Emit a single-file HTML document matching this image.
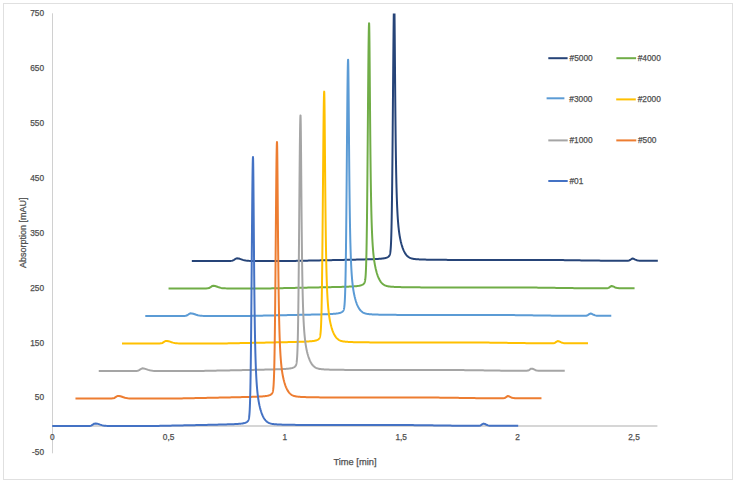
<!DOCTYPE html>
<html><head><meta charset="utf-8"><style>
html,body{margin:0;padding:0;background:#fff;}
svg{display:block;}
text{font-family:"Liberation Sans",sans-serif;fill:#505050;stroke:#505050;stroke-width:0.25px;}
</style></head><body>
<svg width="736" height="483" viewBox="0 0 736 483">
<defs><clipPath id="pa"><rect x="40" y="13.5" width="680" height="441"/></clipPath></defs>
<rect x="0" y="0" width="736" height="483" fill="#fff"/>
<rect x="3.5" y="3.5" width="729" height="476" fill="none" stroke="#e0e0e0" stroke-width="1"/>
<line x1="52.5" y1="13.3" x2="52.5" y2="453.3" stroke="#d0d0d0" stroke-width="1"/>
<line x1="52.5" y1="426" x2="657.4" y2="426" stroke="#d6d6d6" stroke-width="2"/>
<g clip-path="url(#pa)" fill="none" stroke-width="2" stroke-linejoin="round" stroke-linecap="butt">
<path d="M191.82 260.91L193.32 260.91L194.82 260.91L196.32 260.91L197.82 260.91L199.32 260.91L200.82 260.91L202.32 260.91L203.82 260.91L205.32 260.91L206.82 260.91L208.32 260.91L209.82 260.91L211.32 260.91L212.82 260.91L214.32 260.91L215.82 260.91L217.32 260.91L218.82 260.91L220.32 260.91L221.82 260.91L223.32 260.91L224.82 260.91L226.32 260.91L227.82 260.91L229.32 260.90L230.82 260.88L232.32 260.70L233.82 260.05L235.32 258.93L236.82 258.31L238.32 258.45L239.82 258.83L241.32 259.34L242.82 259.84L244.32 260.26L245.82 260.56L247.32 260.74L248.82 260.83L250.32 260.88L251.82 260.90L253.32 260.90L254.82 260.90L256.32 260.91L257.82 260.91L259.32 260.91L260.82 260.91L262.32 260.91L263.82 260.91L265.32 260.90L266.82 260.90L268.32 260.90L269.82 260.90L271.32 260.90L272.82 260.90L274.32 260.90L275.82 260.90L277.32 260.90L278.82 260.90L280.32 260.90L281.82 260.90L283.32 260.90L284.82 260.90L286.32 260.90L287.82 260.90L289.32 260.90L290.82 260.90L292.32 260.90L293.82 260.90L295.32 260.88L296.82 260.85L298.32 260.82L299.82 260.79L301.32 260.76L302.82 260.73L304.32 260.70L305.82 260.67L307.32 260.64L308.82 260.61L310.32 260.58L311.82 260.55L313.32 260.51L314.82 260.48L316.32 260.45L317.82 260.42L319.32 260.39L320.82 260.36L322.32 260.33L323.82 260.30L325.32 260.27L326.82 260.24L328.32 260.21L329.82 260.18L331.32 260.15L332.82 260.12L334.32 260.08L335.82 260.05L337.32 260.02L338.82 259.99L340.32 259.96L341.82 259.93L343.32 259.89L344.82 259.86L346.32 259.83L347.82 259.80L349.32 259.77L350.82 259.73L352.32 259.70L353.82 259.67L355.32 259.63L356.82 259.60L358.32 259.56L359.82 259.53L361.32 259.49L362.82 259.45L364.32 259.41L365.82 259.37L367.32 259.33L368.82 259.29L370.32 259.24L370.82 259.22L371.32 259.21L371.82 259.19L372.32 259.17L372.82 259.15L373.32 259.13L373.82 259.11L374.32 259.09L374.82 259.07L375.32 259.05L375.82 259.03L376.32 259.00L376.82 258.98L377.32 258.95L377.82 258.92L378.32 258.90L378.82 258.86L379.32 258.83L379.82 258.79L380.32 258.75L380.82 258.71L381.32 258.67L381.82 258.61L382.32 258.56L382.82 258.50L383.32 258.43L383.82 258.35L384.32 258.26L384.82 258.16L385.32 258.05L385.82 257.92L386.32 257.76L386.82 257.58L387.32 257.36L387.82 257.09L388.32 256.76L388.42 256.68L388.52 256.60L388.62 256.51L388.72 256.42L388.82 256.33L388.92 256.22L389.02 256.11L389.12 255.99L389.22 255.85L389.32 255.71L389.42 255.54L389.52 255.36L389.62 255.15L389.72 254.91L389.82 254.63L389.92 254.30L390.02 253.92L390.12 253.48L390.22 252.95L390.32 252.32L390.42 251.58L390.52 250.70L390.62 249.65L390.72 248.41L390.82 246.94L390.92 245.21L391.02 243.19L391.12 240.82L391.22 238.07L391.32 234.90L391.42 231.25L391.52 227.08L391.62 222.36L391.72 217.03L391.82 211.07L391.92 204.44L392.02 197.13L392.12 189.13L392.22 180.45L392.32 171.09L392.42 161.09L392.52 150.50L392.62 139.39L392.72 127.84L392.82 115.97L392.92 103.88L393.02 91.72L393.12 79.63L393.22 67.79L393.32 56.37L393.42 45.54L393.52 35.49L393.62 26.39L393.72 18.42L393.82 11.72L393.92 6.44L394.02 2.69L394.12 0.53L394.22 0.07L394.32 2.20L394.42 7.19L394.52 14.68L394.62 24.19L394.72 35.18L394.82 47.10L394.92 59.48L395.02 71.91L395.12 84.07L395.22 95.74L395.32 106.78L395.42 117.11L395.52 126.69L395.62 135.53L395.72 143.65L395.82 151.08L395.92 157.87L396.02 164.07L396.12 169.73L396.22 174.90L396.32 179.63L396.42 183.95L396.52 187.91L396.62 191.55L396.72 194.88L396.82 197.96L396.92 200.79L397.02 203.41L397.12 205.84L397.22 208.08L397.32 210.17L397.42 212.12L397.52 213.94L397.62 215.63L397.72 217.22L397.82 218.72L397.92 220.12L398.02 221.44L398.12 222.69L398.22 223.86L398.32 224.98L398.42 226.04L398.52 227.04L398.62 228.00L398.72 228.91L398.82 229.77L398.92 230.60L399.02 231.40L399.12 232.16L399.22 232.89L399.32 233.59L399.42 234.26L399.52 234.91L399.62 235.54L399.72 236.14L399.82 236.72L399.92 237.29L400.02 237.83L400.12 238.36L400.22 238.87L400.72 241.22L401.22 243.26L401.72 245.07L402.22 246.68L402.72 248.12L403.22 249.42L403.72 250.58L404.22 251.63L404.72 252.57L405.22 253.41L405.72 254.16L406.22 254.83L406.72 255.42L407.22 255.94L407.72 256.40L408.22 256.80L408.72 257.15L409.22 257.46L409.72 257.72L410.22 257.95L410.72 258.15L411.22 258.33L411.72 258.47L412.22 258.60L412.72 258.71L413.22 258.81L413.72 258.90L414.22 258.97L414.72 259.04L415.22 259.09L415.72 259.14L416.22 259.19L416.72 259.23L417.22 259.27L417.72 259.30L418.22 259.34L418.72 259.36L419.22 259.39L420.72 259.46L422.22 259.52L423.72 259.57L425.22 259.61L426.72 259.65L428.22 259.68L429.72 259.70L431.22 259.73L432.72 259.75L434.22 259.77L435.72 259.79L437.22 259.80L438.72 259.82L440.22 259.83L441.72 259.84L443.22 259.85L444.72 259.86L446.22 259.87L447.72 259.88L449.22 259.88L450.72 259.89L452.22 259.90L453.72 259.90L455.22 259.91L456.72 259.91L458.22 259.92L459.72 259.92L461.22 259.92L462.72 259.93L464.22 259.93L465.72 259.93L467.22 259.94L468.72 259.94L470.22 259.94L471.72 259.95L473.22 259.95L474.72 259.95L476.22 259.95L477.72 259.95L479.22 259.96L480.72 259.96L482.22 259.96L483.72 259.96L485.22 259.96L486.72 259.96L488.22 259.97L489.72 259.97L491.22 259.97L492.72 259.97L494.22 259.97L495.72 259.97L497.22 259.97L498.72 259.97L500.22 259.98L501.72 259.98L503.22 259.98L504.72 259.98L506.22 259.98L507.72 259.98L509.22 259.98L510.72 259.98L512.22 259.98L513.72 259.98L515.22 259.98L516.72 259.98L518.22 259.98L519.72 259.99L521.22 259.99L522.72 259.99L524.22 259.99L525.72 259.99L527.22 259.99L528.72 259.99L530.22 259.99L531.72 259.99L533.22 259.99L534.72 259.99L536.22 259.99L537.72 259.99L539.22 259.99L540.72 259.99L542.22 259.99L543.72 259.99L545.22 259.99L546.72 260.00L548.22 260.00L549.72 260.01L551.22 260.01L552.72 260.02L554.22 260.03L555.72 260.05L557.22 260.06L558.72 260.07L560.22 260.09L561.72 260.11L563.22 260.12L564.72 260.14L566.22 260.16L567.72 260.18L569.22 260.20L570.72 260.22L572.22 260.24L573.72 260.27L575.22 260.29L576.72 260.31L578.22 260.33L579.72 260.36L581.22 260.38L582.72 260.40L584.22 260.42L585.72 260.45L587.22 260.47L588.72 260.49L590.22 260.51L591.72 260.53L593.22 260.55L594.72 260.57L596.22 260.59L597.72 260.60L599.22 260.62L600.72 260.63L602.22 260.65L603.72 260.66L605.22 260.67L606.72 260.68L608.22 260.69L609.72 260.69L611.22 260.70L612.72 260.70L614.22 260.70L615.72 260.70L617.22 260.70L618.72 260.70L620.22 260.70L621.72 260.70L623.22 260.70L624.72 260.70L626.22 260.70L627.72 260.69L629.22 260.47L630.72 259.53L632.22 258.52L633.72 258.79L635.22 259.54L636.72 260.21L638.22 260.56L639.72 260.67L641.22 260.70L642.72 260.70L644.22 260.70L645.72 260.70L647.22 260.70L648.72 260.70L650.22 260.70L651.72 260.70L653.22 260.70L654.72 260.70L656.22 260.70L657.22 260.70L657.82 260.70" stroke="#264478"/>
<path d="M168.55 288.42L170.05 288.42L171.55 288.42L173.05 288.42L174.55 288.42L176.05 288.42L177.55 288.42L179.05 288.42L180.55 288.42L182.05 288.42L183.55 288.42L185.05 288.42L186.55 288.42L188.05 288.42L189.55 288.42L191.05 288.42L192.55 288.42L194.05 288.42L195.55 288.42L197.05 288.42L198.55 288.42L200.05 288.42L201.55 288.42L203.05 288.42L204.55 288.42L206.05 288.42L207.55 288.36L209.05 288.05L210.55 287.19L212.05 286.10L213.55 285.84L215.05 286.08L216.55 286.52L218.05 287.04L219.55 287.52L221.05 287.90L222.55 288.15L224.05 288.29L225.55 288.37L227.05 288.40L228.55 288.41L230.05 288.42L231.55 288.42L233.05 288.42L234.55 288.42L236.05 288.42L237.55 288.42L239.05 288.42L240.55 288.42L242.05 288.42L243.55 288.42L245.05 288.42L246.55 288.42L248.05 288.42L249.55 288.42L251.05 288.42L252.55 288.42L254.05 288.42L255.55 288.42L257.05 288.42L258.55 288.42L260.05 288.42L261.55 288.42L263.05 288.42L264.55 288.42L266.05 288.42L267.55 288.42L269.05 288.42L270.55 288.39L272.05 288.36L273.55 288.33L275.05 288.30L276.55 288.27L278.05 288.24L279.55 288.21L281.05 288.17L282.55 288.14L284.05 288.11L285.55 288.08L287.05 288.05L288.55 288.02L290.05 287.99L291.55 287.96L293.05 287.93L294.55 287.90L296.05 287.87L297.55 287.84L299.05 287.81L300.55 287.78L302.05 287.75L303.55 287.72L305.05 287.68L306.55 287.65L308.05 287.62L309.55 287.59L311.05 287.56L312.55 287.53L314.05 287.50L315.55 287.47L317.05 287.43L318.55 287.40L320.05 287.37L321.55 287.34L323.05 287.31L324.55 287.27L326.05 287.24L327.55 287.21L329.05 287.17L330.55 287.14L332.05 287.10L333.55 287.07L335.05 287.03L336.55 286.99L338.05 286.96L339.55 286.92L341.05 286.88L342.55 286.83L344.05 286.79L345.55 286.74L346.05 286.72L346.55 286.71L347.05 286.69L347.55 286.67L348.05 286.65L348.55 286.63L349.05 286.61L349.55 286.59L350.05 286.57L350.55 286.55L351.05 286.52L351.55 286.50L352.05 286.47L352.55 286.44L353.05 286.41L353.55 286.38L354.05 286.35L354.55 286.31L355.05 286.28L355.55 286.23L356.05 286.19L356.55 286.14L357.05 286.08L357.55 286.02L358.05 285.96L358.55 285.88L359.05 285.80L359.55 285.70L360.05 285.59L360.55 285.46L361.05 285.31L361.55 285.13L362.05 284.92L362.55 284.67L363.05 284.36L363.55 283.96L363.65 283.86L363.75 283.76L363.85 283.66L363.95 283.54L364.05 283.41L364.15 283.27L364.25 283.12L364.35 282.94L364.45 282.75L364.55 282.53L364.65 282.27L364.75 281.97L364.85 281.63L364.95 281.22L365.05 280.75L365.15 280.18L365.25 279.51L365.35 278.71L365.45 277.77L365.55 276.65L365.65 275.32L365.75 273.75L365.85 271.91L365.95 269.75L366.05 267.23L366.15 264.31L366.25 260.94L366.35 257.08L366.45 252.67L366.55 247.69L366.65 242.08L366.75 235.82L366.85 228.87L366.95 221.23L367.05 212.88L367.15 203.84L367.25 194.12L367.35 183.76L367.45 172.83L367.55 161.38L367.65 149.53L367.75 137.37L367.85 125.04L367.95 112.68L368.05 100.44L368.15 88.51L368.25 77.05L368.35 66.26L368.45 56.31L368.55 47.38L368.65 39.65L368.75 33.26L368.85 28.34L368.95 25.00L369.05 23.31L369.15 23.50L369.25 26.57L369.35 32.45L369.45 40.73L369.55 50.92L369.65 62.44L369.75 74.75L369.85 87.40L369.95 99.98L370.05 112.22L370.15 123.91L370.25 134.93L370.35 145.21L370.45 154.72L370.55 163.49L370.65 171.53L370.75 178.89L370.85 185.61L370.95 191.74L371.05 197.35L371.15 202.47L371.25 207.14L371.35 211.43L371.45 215.35L371.55 218.95L371.65 222.26L371.75 225.31L371.85 228.13L371.95 230.73L372.05 233.14L372.15 235.37L372.25 237.45L372.35 239.39L372.45 241.20L372.55 242.89L372.65 244.48L372.75 245.97L372.85 247.37L372.95 248.69L373.05 249.94L373.15 251.11L373.25 252.23L373.35 253.29L373.45 254.29L373.55 255.25L373.65 256.16L373.75 257.03L373.85 257.87L373.95 258.66L374.05 259.43L374.15 260.16L374.25 260.86L374.35 261.54L374.45 262.19L374.55 262.82L374.65 263.43L374.75 264.02L374.85 264.58L374.95 265.13L375.05 265.67L375.15 266.18L375.65 268.54L376.15 270.61L376.65 272.43L377.15 274.06L377.65 275.52L378.15 276.83L378.65 278.01L379.15 279.06L379.65 280.01L380.15 280.86L380.65 281.62L381.15 282.29L381.65 282.89L382.15 283.42L382.65 283.88L383.15 284.29L383.65 284.64L384.15 284.95L384.65 285.22L385.15 285.45L385.65 285.65L386.15 285.82L386.65 285.97L387.15 286.10L387.65 286.21L388.15 286.31L388.65 286.40L389.15 286.47L389.65 286.54L390.15 286.60L390.65 286.65L391.15 286.69L391.65 286.74L392.15 286.77L392.65 286.81L393.15 286.84L393.65 286.87L394.15 286.90L395.65 286.97L397.15 287.03L398.65 287.08L400.15 287.12L401.65 287.16L403.15 287.19L404.65 287.22L406.15 287.24L407.65 287.26L409.15 287.28L410.65 287.30L412.15 287.31L413.65 287.33L415.15 287.34L416.65 287.35L418.15 287.36L419.65 287.37L421.15 287.38L422.65 287.39L424.15 287.40L425.65 287.40L427.15 287.41L428.65 287.41L430.15 287.42L431.65 287.42L433.15 287.43L434.65 287.43L436.15 287.44L437.65 287.44L439.15 287.45L440.65 287.45L442.15 287.45L443.65 287.45L445.15 287.46L446.65 287.46L448.15 287.46L449.65 287.46L451.15 287.47L452.65 287.47L454.15 287.47L455.65 287.47L457.15 287.47L458.65 287.48L460.15 287.48L461.65 287.48L463.15 287.48L464.65 287.48L466.15 287.48L467.65 287.48L469.15 287.49L470.65 287.49L472.15 287.49L473.65 287.49L475.15 287.49L476.65 287.49L478.15 287.49L479.65 287.49L481.15 287.49L482.65 287.49L484.15 287.50L485.65 287.50L487.15 287.50L488.65 287.50L490.15 287.50L491.65 287.50L493.15 287.50L494.65 287.50L496.15 287.50L497.65 287.50L499.15 287.50L500.65 287.50L502.15 287.50L503.65 287.50L505.15 287.50L506.65 287.50L508.15 287.50L509.65 287.51L511.15 287.51L512.65 287.51L514.15 287.51L515.65 287.51L517.15 287.51L518.65 287.51L520.15 287.51L521.65 287.51L523.15 287.52L524.65 287.52L526.15 287.53L527.65 287.54L529.15 287.55L530.65 287.56L532.15 287.57L533.65 287.59L535.15 287.60L536.65 287.62L538.15 287.64L539.65 287.66L541.15 287.68L542.65 287.70L544.15 287.72L545.65 287.74L547.15 287.76L548.65 287.78L550.15 287.80L551.65 287.83L553.15 287.85L554.65 287.87L556.15 287.89L557.65 287.92L559.15 287.94L560.65 287.96L562.15 287.98L563.65 288.00L565.15 288.03L566.65 288.05L568.15 288.06L569.65 288.08L571.15 288.10L572.65 288.12L574.15 288.13L575.65 288.15L577.15 288.16L578.65 288.17L580.15 288.18L581.65 288.19L583.15 288.20L584.65 288.21L586.15 288.21L587.65 288.22L589.15 288.22L590.65 288.22L592.15 288.22L593.65 288.22L595.15 288.22L596.65 288.22L598.15 288.22L599.65 288.22L601.15 288.22L602.65 288.22L604.15 288.22L605.65 288.22L607.15 288.19L608.65 287.86L610.15 286.75L611.65 286.02L613.15 286.45L614.65 287.22L616.15 287.83L617.65 288.11L619.15 288.20L620.65 288.22L622.15 288.22L623.65 288.22L625.15 288.22L626.65 288.22L628.15 288.22L629.65 288.22L631.15 288.22L632.65 288.22L633.95 288.22L634.55 288.22" stroke="#70AD47"/>
<path d="M145.28 315.94L146.78 315.94L148.28 315.94L149.78 315.94L151.28 315.94L152.78 315.94L154.28 315.94L155.78 315.94L157.28 315.94L158.78 315.94L160.28 315.94L161.78 315.94L163.28 315.94L164.78 315.94L166.28 315.94L167.78 315.94L169.28 315.94L170.78 315.94L172.28 315.94L173.78 315.94L175.28 315.94L176.78 315.94L178.28 315.94L179.78 315.94L181.28 315.94L182.78 315.94L184.28 315.92L185.78 315.79L187.28 315.28L188.78 314.22L190.28 313.37L191.78 313.42L193.28 313.76L194.78 314.25L196.28 314.76L197.78 315.21L199.28 315.53L200.78 315.73L202.28 315.85L203.78 315.90L205.28 315.92L206.78 315.93L208.28 315.93L209.78 315.94L211.28 315.94L212.78 315.94L214.28 315.94L215.78 315.94L217.28 315.94L218.78 315.94L220.28 315.93L221.78 315.93L223.28 315.93L224.78 315.93L226.28 315.93L227.78 315.93L229.28 315.93L230.78 315.93L232.28 315.93L233.78 315.93L235.28 315.93L236.78 315.93L238.28 315.93L239.78 315.93L241.28 315.93L242.78 315.93L244.28 315.93L245.78 315.93L247.28 315.93L248.78 315.92L250.28 315.89L251.78 315.86L253.28 315.83L254.78 315.80L256.28 315.77L257.78 315.74L259.28 315.71L260.78 315.68L262.28 315.65L263.78 315.61L265.28 315.58L266.78 315.55L268.28 315.52L269.78 315.49L271.28 315.46L272.78 315.43L274.28 315.40L275.78 315.37L277.28 315.34L278.78 315.31L280.28 315.28L281.78 315.25L283.28 315.22L284.78 315.19L286.28 315.15L287.78 315.12L289.28 315.09L290.78 315.06L292.28 315.03L293.78 315.00L295.28 314.97L296.78 314.93L298.28 314.90L299.78 314.87L301.28 314.84L302.78 314.81L304.28 314.77L305.78 314.74L307.28 314.71L308.78 314.67L310.28 314.64L311.78 314.60L313.28 314.57L314.78 314.53L316.28 314.49L317.78 314.46L319.28 314.42L320.78 314.38L322.28 314.33L323.78 314.29L324.28 314.27L324.78 314.25L325.28 314.24L325.78 314.22L326.28 314.20L326.78 314.18L327.28 314.17L327.78 314.15L328.28 314.13L328.78 314.10L329.28 314.08L329.78 314.06L330.28 314.04L330.78 314.01L331.28 313.98L331.78 313.96L332.28 313.93L332.78 313.90L333.28 313.86L333.78 313.83L334.28 313.79L334.78 313.74L335.28 313.70L335.78 313.65L336.28 313.59L336.78 313.53L337.28 313.46L337.78 313.38L338.28 313.30L338.78 313.20L339.28 313.08L339.78 312.95L340.28 312.79L340.78 312.61L341.28 312.39L341.78 312.12L342.28 311.78L342.38 311.70L342.48 311.62L342.58 311.54L342.68 311.44L342.78 311.34L342.88 311.24L342.98 311.12L343.08 310.99L343.18 310.85L343.28 310.70L343.38 310.53L343.48 310.33L343.58 310.11L343.68 309.85L343.78 309.55L343.88 309.20L343.98 308.79L344.08 308.30L344.18 307.73L344.28 307.05L344.38 306.24L344.48 305.28L344.58 304.14L344.68 302.79L344.78 301.20L344.88 299.33L344.98 297.14L345.08 294.60L345.18 291.65L345.28 288.26L345.38 284.38L345.48 279.96L345.58 274.97L345.68 269.36L345.78 263.12L345.88 256.21L345.98 248.62L346.08 240.36L346.18 231.42L346.28 221.85L346.38 211.67L346.48 200.95L346.58 189.77L346.68 178.22L346.78 166.41L346.88 154.48L346.98 142.56L347.08 130.81L347.18 119.40L347.28 108.51L347.38 98.31L347.48 88.98L347.58 80.68L347.68 73.59L347.78 67.83L347.88 63.53L347.98 60.78L348.08 59.63L348.18 60.58L348.28 64.39L348.38 70.81L348.48 79.42L348.58 89.70L348.68 101.11L348.78 113.15L348.88 125.38L348.98 137.46L349.08 149.14L349.18 160.25L349.28 170.68L349.38 180.39L349.48 189.36L349.58 197.61L349.68 205.18L349.78 212.10L349.88 218.42L349.98 224.18L350.08 229.45L350.18 234.26L350.28 238.66L350.38 242.69L350.48 246.39L350.58 249.78L350.68 252.90L350.78 255.77L350.88 258.43L350.98 260.88L351.08 263.16L351.18 265.27L351.28 267.24L351.38 269.08L351.48 270.79L351.58 272.39L351.68 273.89L351.78 275.31L351.88 276.64L351.98 277.89L352.08 279.07L352.18 280.19L352.28 281.25L352.38 282.26L352.48 283.22L352.58 284.13L352.68 285.00L352.78 285.83L352.88 286.62L352.98 287.38L353.08 288.11L353.18 288.81L353.28 289.48L353.38 290.13L353.48 290.75L353.58 291.35L353.68 291.93L353.78 292.50L353.88 293.04L353.98 293.56L354.08 294.07L354.18 294.57L354.68 296.83L355.18 298.81L355.68 300.56L356.18 302.12L356.68 303.52L357.18 304.78L357.68 305.91L358.18 306.92L358.68 307.84L359.18 308.65L359.68 309.38L360.18 310.02L360.68 310.60L361.18 311.10L361.68 311.54L362.18 311.93L362.68 312.27L363.18 312.57L363.68 312.82L364.18 313.05L364.68 313.24L365.18 313.40L365.68 313.55L366.18 313.67L366.68 313.78L367.18 313.87L367.68 313.96L368.18 314.03L368.68 314.09L369.18 314.15L369.68 314.20L370.18 314.24L370.68 314.28L371.18 314.32L371.68 314.35L372.18 314.38L372.68 314.41L373.18 314.44L374.68 314.50L376.18 314.56L377.68 314.61L379.18 314.65L380.68 314.68L382.18 314.71L383.68 314.74L385.18 314.76L386.68 314.79L388.18 314.80L389.68 314.82L391.18 314.84L392.68 314.85L394.18 314.86L395.68 314.87L397.18 314.88L398.68 314.89L400.18 314.90L401.68 314.91L403.18 314.92L404.68 314.92L406.18 314.93L407.68 314.93L409.18 314.94L410.68 314.94L412.18 314.95L413.68 314.95L415.18 314.96L416.68 314.96L418.18 314.96L419.68 314.97L421.18 314.97L422.68 314.97L424.18 314.97L425.68 314.98L427.18 314.98L428.68 314.98L430.18 314.98L431.68 314.99L433.18 314.99L434.68 314.99L436.18 314.99L437.68 314.99L439.18 314.99L440.68 315.00L442.18 315.00L443.68 315.00L445.18 315.00L446.68 315.00L448.18 315.00L449.68 315.00L451.18 315.00L452.68 315.01L454.18 315.01L455.68 315.01L457.18 315.01L458.68 315.01L460.18 315.01L461.68 315.01L463.18 315.01L464.68 315.01L466.18 315.01L467.68 315.01L469.18 315.01L470.68 315.01L472.18 315.02L473.68 315.02L475.18 315.02L476.68 315.02L478.18 315.02L479.68 315.02L481.18 315.02L482.68 315.02L484.18 315.02L485.68 315.02L487.18 315.02L488.68 315.02L490.18 315.02L491.68 315.02L493.18 315.02L494.68 315.02L496.18 315.02L497.68 315.02L499.18 315.02L500.68 315.03L502.18 315.03L503.68 315.04L505.18 315.04L506.68 315.05L508.18 315.06L509.68 315.08L511.18 315.09L512.68 315.10L514.18 315.12L515.68 315.14L517.18 315.15L518.68 315.17L520.18 315.19L521.68 315.21L523.18 315.23L524.68 315.25L526.18 315.28L527.68 315.30L529.18 315.32L530.68 315.34L532.18 315.37L533.68 315.39L535.18 315.41L536.68 315.43L538.18 315.46L539.68 315.48L541.18 315.50L542.68 315.52L544.18 315.54L545.68 315.56L547.18 315.58L548.68 315.60L550.18 315.62L551.68 315.63L553.18 315.65L554.68 315.66L556.18 315.68L557.68 315.69L559.18 315.70L560.68 315.71L562.18 315.72L563.68 315.72L565.18 315.73L566.68 315.73L568.18 315.73L569.68 315.73L571.18 315.73L572.68 315.73L574.18 315.73L575.68 315.73L577.18 315.73L578.68 315.73L580.18 315.73L581.68 315.73L583.18 315.73L584.68 315.73L586.18 315.69L587.68 315.31L589.18 314.15L590.68 313.55L592.18 314.03L593.68 314.80L595.18 315.38L596.68 315.64L598.18 315.72L599.68 315.73L601.18 315.73L602.68 315.73L604.18 315.73L605.68 315.73L607.18 315.73L608.68 315.73L610.18 315.73L610.68 315.73L611.28 315.73" stroke="#5B9BD5"/>
<path d="M122.01 343.45L123.51 343.45L125.01 343.45L126.51 343.45L128.01 343.45L129.51 343.45L131.01 343.45L132.51 343.45L134.01 343.45L135.51 343.45L137.01 343.45L138.51 343.45L140.01 343.45L141.51 343.45L143.01 343.45L144.51 343.45L146.01 343.45L147.51 343.45L149.01 343.45L150.51 343.45L152.01 343.45L153.51 343.45L155.01 343.45L156.51 343.45L158.01 343.45L159.51 343.44L161.01 343.35L162.51 342.93L164.01 341.95L165.51 340.96L167.01 340.90L168.51 341.20L170.01 341.67L171.51 342.19L173.01 342.65L174.51 343.00L176.01 343.22L177.51 343.35L179.01 343.41L180.51 343.44L182.01 343.45L183.51 343.45L185.01 343.45L186.51 343.45L188.01 343.45L189.51 343.45L191.01 343.45L192.51 343.45L194.01 343.45L195.51 343.45L197.01 343.45L198.51 343.45L200.01 343.45L201.51 343.45L203.01 343.45L204.51 343.45L206.01 343.45L207.51 343.45L209.01 343.45L210.51 343.45L212.01 343.45L213.51 343.45L215.01 343.45L216.51 343.45L218.01 343.45L219.51 343.45L221.01 343.45L222.51 343.45L224.01 343.45L225.51 343.42L227.01 343.39L228.51 343.36L230.01 343.33L231.51 343.30L233.01 343.27L234.51 343.24L236.01 343.21L237.51 343.18L239.01 343.15L240.51 343.12L242.01 343.09L243.51 343.06L245.01 343.03L246.51 343.00L248.01 342.96L249.51 342.93L251.01 342.90L252.51 342.87L254.01 342.84L255.51 342.81L257.01 342.78L258.51 342.75L260.01 342.72L261.51 342.69L263.01 342.66L264.51 342.63L266.01 342.59L267.51 342.56L269.01 342.53L270.51 342.50L272.01 342.47L273.51 342.44L275.01 342.41L276.51 342.37L278.01 342.34L279.51 342.31L281.01 342.28L282.51 342.24L284.01 342.21L285.51 342.17L287.01 342.14L288.51 342.10L290.01 342.07L291.51 342.03L293.01 341.99L294.51 341.96L296.01 341.92L297.51 341.87L299.01 341.83L300.51 341.78L301.01 341.77L301.51 341.75L302.01 341.73L302.51 341.72L303.01 341.70L303.51 341.68L304.01 341.66L304.51 341.64L305.01 341.62L305.51 341.60L306.01 341.57L306.51 341.55L307.01 341.52L307.51 341.50L308.01 341.47L308.51 341.44L309.01 341.41L309.51 341.37L310.01 341.34L310.51 341.30L311.01 341.26L311.51 341.21L312.01 341.16L312.51 341.10L313.01 341.04L313.51 340.97L314.01 340.89L314.51 340.80L315.01 340.70L315.51 340.58L316.01 340.45L316.51 340.29L317.01 340.10L317.51 339.87L318.01 339.59L318.51 339.24L318.61 339.15L318.71 339.07L318.81 338.97L318.91 338.87L319.01 338.77L319.11 338.65L319.21 338.52L319.31 338.38L319.41 338.22L319.51 338.05L319.61 337.85L319.71 337.62L319.81 337.35L319.91 337.05L320.01 336.69L320.11 336.26L320.21 335.76L320.31 335.17L320.41 334.46L320.51 333.62L320.61 332.63L320.71 331.45L320.81 330.06L320.91 328.42L321.01 326.49L321.11 324.24L321.21 321.63L321.31 318.61L321.41 315.14L321.51 311.17L321.61 306.66L321.71 301.58L321.81 295.89L321.91 289.56L322.01 282.58L322.11 274.92L322.21 266.60L322.31 257.63L322.41 248.05L322.51 237.88L322.61 227.21L322.71 216.10L322.81 204.67L322.91 193.02L323.01 181.28L323.11 169.61L323.21 158.15L323.31 147.08L323.41 136.56L323.51 126.78L323.61 117.90L323.71 110.09L323.81 103.50L323.91 98.26L324.01 94.49L324.11 92.25L324.21 91.62L324.31 93.39L324.41 97.94L324.51 104.95L324.61 113.95L324.71 124.44L324.81 135.89L324.91 147.81L325.01 159.81L325.11 171.58L325.21 182.90L325.31 193.62L325.41 203.66L325.51 212.99L325.61 221.59L325.71 229.49L325.81 236.72L325.91 243.34L326.01 249.38L326.11 254.89L326.21 259.93L326.31 264.53L326.41 268.74L326.51 272.60L326.61 276.13L326.71 279.38L326.81 282.37L326.91 285.13L327.01 287.68L327.11 290.04L327.21 292.22L327.31 294.25L327.41 296.15L327.51 297.91L327.61 299.56L327.71 301.11L327.81 302.55L327.91 303.92L328.01 305.20L328.11 306.41L328.21 307.55L328.31 308.63L328.41 309.66L328.51 310.63L328.61 311.56L328.71 312.44L328.81 313.29L328.91 314.09L329.01 314.86L329.11 315.60L329.21 316.31L329.31 316.98L329.41 317.64L329.51 318.27L329.61 318.87L329.71 319.46L329.81 320.02L329.91 320.57L330.01 321.10L330.11 321.61L330.21 322.10L330.71 324.37L331.21 326.35L331.71 328.10L332.21 329.66L332.71 331.05L333.21 332.31L333.71 333.44L334.21 334.45L334.71 335.36L335.21 336.17L335.71 336.90L336.21 337.54L336.71 338.12L337.21 338.62L337.71 339.06L338.21 339.45L338.71 339.79L339.21 340.09L339.71 340.34L340.21 340.57L340.71 340.76L341.21 340.93L341.71 341.07L342.21 341.19L342.71 341.30L343.21 341.40L343.71 341.48L344.21 341.55L344.71 341.61L345.21 341.67L345.71 341.72L346.21 341.76L346.71 341.80L347.21 341.84L347.71 341.87L348.21 341.90L348.71 341.93L349.21 341.96L350.71 342.03L352.21 342.08L353.71 342.13L355.21 342.17L356.71 342.20L358.21 342.23L359.71 342.26L361.21 342.28L362.71 342.30L364.21 342.32L365.71 342.34L367.21 342.35L368.71 342.37L370.21 342.38L371.71 342.39L373.21 342.40L374.71 342.41L376.21 342.42L377.71 342.43L379.21 342.43L380.71 342.44L382.21 342.44L383.71 342.45L385.21 342.46L386.71 342.46L388.21 342.46L389.71 342.47L391.21 342.47L392.71 342.48L394.21 342.48L395.71 342.48L397.21 342.49L398.71 342.49L400.21 342.49L401.71 342.49L403.21 342.50L404.71 342.50L406.21 342.50L407.71 342.50L409.21 342.50L410.71 342.51L412.21 342.51L413.71 342.51L415.21 342.51L416.71 342.51L418.21 342.51L419.71 342.51L421.21 342.52L422.71 342.52L424.21 342.52L425.71 342.52L427.21 342.52L428.71 342.52L430.21 342.52L431.71 342.52L433.21 342.52L434.71 342.52L436.21 342.53L437.71 342.53L439.21 342.53L440.71 342.53L442.21 342.53L443.71 342.53L445.21 342.53L446.71 342.53L448.21 342.53L449.71 342.53L451.21 342.53L452.71 342.53L454.21 342.53L455.71 342.53L457.21 342.53L458.71 342.53L460.21 342.53L461.71 342.54L463.21 342.54L464.71 342.54L466.21 342.54L467.71 342.54L469.21 342.54L470.71 342.54L472.21 342.54L473.71 342.54L475.21 342.54L476.71 342.54L478.21 342.55L479.71 342.55L481.21 342.56L482.71 342.57L484.21 342.58L485.71 342.59L487.21 342.60L488.71 342.62L490.21 342.63L491.71 342.65L493.21 342.67L494.71 342.69L496.21 342.71L497.71 342.73L499.21 342.75L500.71 342.77L502.21 342.79L503.71 342.81L505.21 342.83L506.71 342.86L508.21 342.88L509.71 342.90L511.21 342.92L512.71 342.95L514.21 342.97L515.71 342.99L517.21 343.01L518.71 343.03L520.21 343.06L521.71 343.08L523.21 343.09L524.71 343.11L526.21 343.13L527.71 343.15L529.21 343.16L530.71 343.18L532.21 343.19L533.71 343.20L535.21 343.21L536.71 343.22L538.21 343.23L539.71 343.24L541.21 343.24L542.71 343.25L544.21 343.25L545.71 343.25L547.21 343.25L548.71 343.25L550.21 343.25L551.71 343.25L553.21 343.22L554.71 342.95L556.21 341.90L557.71 341.05L559.21 341.42L560.71 342.18L562.21 342.82L563.71 343.13L565.21 343.22L566.71 343.25L568.21 343.25L569.71 343.25L571.21 343.25L572.71 343.25L574.21 343.25L575.71 343.25L577.21 343.25L578.71 343.25L580.21 343.25L581.71 343.25L583.21 343.25L584.71 343.25L586.21 343.25L587.41 343.25L588.01 343.25" stroke="#FFC000"/>
<path d="M98.74 370.97L100.24 370.97L101.74 370.97L103.24 370.97L104.74 370.97L106.24 370.97L107.74 370.97L109.24 370.97L110.74 370.97L112.24 370.97L113.74 370.97L115.24 370.97L116.74 370.97L118.24 370.97L119.74 370.97L121.24 370.97L122.74 370.97L124.24 370.97L125.74 370.97L127.24 370.97L128.74 370.97L130.24 370.97L131.74 370.97L133.24 370.97L134.74 370.96L136.24 370.94L137.74 370.77L139.24 370.16L140.74 369.05L142.24 368.37L143.74 368.50L145.24 368.87L146.74 369.37L148.24 369.88L149.74 370.30L151.24 370.60L152.74 370.79L154.24 370.89L155.74 370.94L157.24 370.96L158.74 370.96L160.24 370.96L161.74 370.97L163.24 370.97L164.74 370.97L166.24 370.97L167.74 370.97L169.24 370.97L170.74 370.97L172.24 370.96L173.74 370.96L175.24 370.96L176.74 370.96L178.24 370.96L179.74 370.96L181.24 370.96L182.74 370.96L184.24 370.96L185.74 370.96L187.24 370.96L188.74 370.96L190.24 370.96L191.74 370.96L193.24 370.96L194.74 370.96L196.24 370.96L197.74 370.96L199.24 370.96L200.74 370.96L202.24 370.93L203.74 370.90L205.24 370.87L206.74 370.84L208.24 370.81L209.74 370.78L211.24 370.74L212.74 370.71L214.24 370.68L215.74 370.65L217.24 370.62L218.74 370.59L220.24 370.56L221.74 370.53L223.24 370.50L224.74 370.47L226.24 370.44L227.74 370.41L229.24 370.38L230.74 370.35L232.24 370.32L233.74 370.29L235.24 370.26L236.74 370.22L238.24 370.19L239.74 370.16L241.24 370.13L242.74 370.10L244.24 370.07L245.74 370.04L247.24 370.01L248.74 369.97L250.24 369.94L251.74 369.91L253.24 369.88L254.74 369.85L256.24 369.81L257.74 369.78L259.24 369.75L260.74 369.71L262.24 369.68L263.74 369.64L265.24 369.61L266.74 369.57L268.24 369.54L269.74 369.50L271.24 369.46L272.74 369.42L274.24 369.38L275.74 369.33L276.24 369.31L276.74 369.30L277.24 369.28L277.74 369.27L278.24 369.25L278.74 369.23L279.24 369.21L279.74 369.19L280.24 369.17L280.74 369.15L281.24 369.13L281.74 369.11L282.24 369.09L282.74 369.06L283.24 369.04L283.74 369.01L284.24 368.98L284.74 368.95L285.24 368.92L285.74 368.89L286.24 368.85L286.74 368.81L287.24 368.77L287.74 368.72L288.24 368.67L288.74 368.62L289.24 368.55L289.74 368.48L290.24 368.41L290.74 368.32L291.24 368.22L291.74 368.10L292.24 367.97L292.74 367.81L293.24 367.62L293.74 367.39L294.24 367.12L294.74 366.77L294.84 366.69L294.94 366.61L295.04 366.52L295.14 366.42L295.24 366.32L295.34 366.20L295.44 366.08L295.54 365.95L295.64 365.80L295.74 365.64L295.84 365.45L295.94 365.24L296.04 365.00L296.14 364.71L296.24 364.39L296.34 364.00L296.44 363.55L296.54 363.01L296.64 362.38L296.74 361.62L296.84 360.73L296.94 359.67L297.04 358.41L297.14 356.92L297.24 355.17L297.34 353.12L297.44 350.73L297.54 347.96L297.64 344.76L297.74 341.08L297.84 336.89L297.94 332.15L298.04 326.80L298.14 320.83L298.24 314.21L298.34 306.91L298.44 298.93L298.54 290.28L298.64 280.98L298.74 271.06L298.84 260.57L298.94 249.59L299.04 238.20L299.14 226.51L299.24 214.63L299.34 202.72L299.44 190.91L299.54 179.37L299.64 168.27L299.74 157.80L299.84 148.12L299.94 139.41L300.04 131.84L300.14 125.54L300.24 120.66L300.34 117.28L300.44 115.49L300.54 115.45L300.64 118.12L300.74 123.53L300.84 131.31L300.94 140.96L301.04 151.96L301.14 163.78L301.24 175.95L301.34 188.10L301.44 199.94L301.54 211.26L301.64 221.95L301.74 231.93L301.84 241.18L301.94 249.70L302.04 257.51L302.14 264.67L302.24 271.21L302.34 277.18L302.44 282.63L302.54 287.60L302.64 292.15L302.74 296.32L302.84 300.13L302.94 303.63L303.04 306.85L303.14 309.81L303.24 312.55L303.34 315.08L303.44 317.42L303.54 319.59L303.64 321.61L303.74 323.49L303.84 325.25L303.94 326.89L304.04 328.43L304.14 329.87L304.24 331.23L304.34 332.51L304.44 333.72L304.54 334.86L304.64 335.94L304.74 336.97L304.84 337.94L304.94 338.87L305.04 339.75L305.14 340.60L305.24 341.40L305.34 342.17L305.44 342.91L305.54 343.62L305.64 344.30L305.74 344.96L305.84 345.59L305.94 346.20L306.04 346.79L306.14 347.35L306.24 347.90L306.34 348.43L306.44 348.95L306.54 349.45L307.04 351.73L307.54 353.73L308.04 355.49L308.54 357.06L309.04 358.47L309.54 359.74L310.04 360.87L310.54 361.90L311.04 362.81L311.54 363.63L312.04 364.37L312.54 365.02L313.04 365.59L313.54 366.10L314.04 366.55L314.54 366.94L315.04 367.28L315.54 367.58L316.04 367.84L316.54 368.06L317.04 368.26L317.54 368.42L318.04 368.57L318.54 368.70L319.04 368.80L319.54 368.90L320.04 368.98L320.54 369.05L321.04 369.12L321.54 369.17L322.04 369.22L322.54 369.27L323.04 369.31L323.54 369.35L324.04 369.38L324.54 369.41L325.04 369.44L325.54 369.46L327.04 369.53L328.54 369.59L330.04 369.64L331.54 369.68L333.04 369.71L334.54 369.74L336.04 369.77L337.54 369.79L339.04 369.82L340.54 369.83L342.04 369.85L343.54 369.87L345.04 369.88L346.54 369.89L348.04 369.90L349.54 369.91L351.04 369.92L352.54 369.93L354.04 369.94L355.54 369.95L357.04 369.95L358.54 369.96L360.04 369.96L361.54 369.97L363.04 369.97L364.54 369.98L366.04 369.98L367.54 369.99L369.04 369.99L370.54 369.99L372.04 370.00L373.54 370.00L375.04 370.00L376.54 370.00L378.04 370.01L379.54 370.01L381.04 370.01L382.54 370.01L384.04 370.02L385.54 370.02L387.04 370.02L388.54 370.02L390.04 370.02L391.54 370.02L393.04 370.03L394.54 370.03L396.04 370.03L397.54 370.03L399.04 370.03L400.54 370.03L402.04 370.03L403.54 370.03L405.04 370.04L406.54 370.04L408.04 370.04L409.54 370.04L411.04 370.04L412.54 370.04L414.04 370.04L415.54 370.04L417.04 370.04L418.54 370.04L420.04 370.04L421.54 370.04L423.04 370.04L424.54 370.05L426.04 370.05L427.54 370.05L429.04 370.05L430.54 370.05L432.04 370.05L433.54 370.05L435.04 370.05L436.54 370.05L438.04 370.05L439.54 370.05L441.04 370.05L442.54 370.05L444.04 370.05L445.54 370.05L447.04 370.05L448.54 370.05L450.04 370.05L451.54 370.05L453.04 370.06L454.54 370.06L456.04 370.07L457.54 370.07L459.04 370.08L460.54 370.09L462.04 370.11L463.54 370.12L465.04 370.13L466.54 370.15L468.04 370.17L469.54 370.18L471.04 370.20L472.54 370.22L474.04 370.24L475.54 370.26L477.04 370.28L478.54 370.31L480.04 370.33L481.54 370.35L483.04 370.37L484.54 370.39L486.04 370.42L487.54 370.44L489.04 370.46L490.54 370.48L492.04 370.51L493.54 370.53L495.04 370.55L496.54 370.57L498.04 370.59L499.54 370.61L501.04 370.63L502.54 370.65L504.04 370.66L505.54 370.68L507.04 370.69L508.54 370.71L510.04 370.72L511.54 370.73L513.04 370.74L514.54 370.75L516.04 370.75L517.54 370.76L519.04 370.76L520.54 370.76L522.04 370.76L523.54 370.76L525.04 370.76L526.54 370.75L528.04 370.61L529.54 369.83L531.04 368.66L532.54 368.75L534.04 369.45L535.54 370.17L537.04 370.57L538.54 370.72L540.04 370.76L541.54 370.76L543.04 370.76L544.54 370.76L546.04 370.76L547.54 370.76L549.04 370.76L550.54 370.76L552.04 370.76L553.54 370.76L555.04 370.76L556.54 370.76L558.04 370.76L559.54 370.76L561.04 370.76L562.54 370.76L564.04 370.76L564.14 370.76L564.74 370.76" stroke="#A5A5A5"/>
<path d="M75.47 398.48L76.97 398.48L78.47 398.48L79.97 398.48L81.47 398.48L82.97 398.48L84.47 398.48L85.97 398.48L87.47 398.48L88.97 398.48L90.47 398.48L91.97 398.48L93.47 398.48L94.97 398.48L96.47 398.48L97.97 398.48L99.47 398.48L100.97 398.48L102.47 398.48L103.97 398.48L105.47 398.48L106.97 398.48L108.47 398.48L109.97 398.48L111.47 398.47L112.97 398.37L114.47 397.93L115.97 396.93L117.47 395.97L118.97 395.94L120.47 396.25L121.97 396.72L123.47 397.24L124.97 397.70L126.47 398.04L127.97 398.26L129.47 398.38L130.97 398.44L132.47 398.47L133.97 398.48L135.47 398.48L136.97 398.48L138.47 398.48L139.97 398.48L141.47 398.48L142.97 398.48L144.47 398.48L145.97 398.48L147.47 398.48L148.97 398.48L150.47 398.48L151.97 398.48L153.47 398.48L154.97 398.48L156.47 398.48L157.97 398.48L159.47 398.48L160.97 398.48L162.47 398.48L163.97 398.48L165.47 398.48L166.97 398.48L168.47 398.48L169.97 398.48L171.47 398.48L172.97 398.48L174.47 398.48L175.97 398.48L177.47 398.47L178.97 398.44L180.47 398.41L181.97 398.38L183.47 398.35L184.97 398.32L186.47 398.29L187.97 398.26L189.47 398.22L190.97 398.19L192.47 398.16L193.97 398.13L195.47 398.10L196.97 398.07L198.47 398.04L199.97 398.01L201.47 397.98L202.97 397.95L204.47 397.92L205.97 397.89L207.47 397.86L208.97 397.83L210.47 397.80L211.97 397.77L213.47 397.73L214.97 397.70L216.47 397.67L217.97 397.64L219.47 397.61L220.97 397.58L222.47 397.55L223.97 397.52L225.47 397.48L226.97 397.45L228.47 397.42L229.97 397.39L231.47 397.36L232.97 397.32L234.47 397.29L235.97 397.26L237.47 397.22L238.97 397.19L240.47 397.15L241.97 397.12L243.47 397.08L244.97 397.04L246.47 397.01L247.97 396.97L249.47 396.93L250.97 396.88L252.47 396.84L252.97 396.82L253.47 396.81L253.97 396.79L254.47 396.77L254.97 396.75L255.47 396.74L255.97 396.72L256.47 396.70L256.97 396.68L257.47 396.66L257.97 396.64L258.47 396.61L258.97 396.59L259.47 396.57L259.97 396.54L260.47 396.51L260.97 396.48L261.47 396.45L261.97 396.42L262.47 396.39L262.97 396.35L263.47 396.31L263.97 396.26L264.47 396.21L264.97 396.16L265.47 396.10L265.97 396.04L266.47 395.96L266.97 395.88L267.47 395.79L267.97 395.68L268.47 395.55L268.97 395.41L269.47 395.24L269.97 395.03L270.47 394.78L270.97 394.48L271.47 394.09L271.57 394.00L271.67 393.90L271.77 393.79L271.87 393.68L271.97 393.55L272.07 393.41L272.17 393.26L272.27 393.09L272.37 392.89L272.47 392.67L272.57 392.42L272.67 392.12L272.77 391.78L272.87 391.38L272.97 390.90L273.07 390.33L273.17 389.66L273.27 388.86L273.37 387.92L273.47 386.80L273.57 385.47L273.67 383.91L273.77 382.07L273.87 379.91L273.97 377.40L274.07 374.50L274.17 371.15L274.27 367.32L274.37 362.95L274.47 358.02L274.57 352.47L274.67 346.29L274.77 339.44L274.87 331.92L274.97 323.72L275.07 314.84L275.17 305.32L275.27 295.20L275.37 284.53L275.47 273.38L275.57 261.86L275.67 250.06L275.77 238.13L275.87 226.19L275.97 214.41L276.07 202.96L276.17 192.00L276.27 181.72L276.37 172.28L276.47 163.88L276.57 156.65L276.67 150.75L276.77 146.29L276.87 143.38L276.97 142.07L277.07 142.75L277.17 146.28L277.27 152.47L277.37 160.88L277.47 171.03L277.57 182.36L277.67 194.36L277.77 206.59L277.87 218.71L277.97 230.44L278.07 241.62L278.17 252.13L278.27 261.92L278.37 270.97L278.47 279.30L278.57 286.93L278.67 293.92L278.77 300.30L278.87 306.12L278.97 311.44L279.07 316.30L279.17 320.74L279.27 324.81L279.37 328.54L279.47 331.96L279.57 335.11L279.67 338.01L279.77 340.68L279.87 343.16L279.97 345.46L280.07 347.59L280.17 349.57L280.27 351.42L280.37 353.14L280.47 354.76L280.57 356.27L280.67 357.69L280.77 359.03L280.87 360.29L280.97 361.48L281.07 362.61L281.17 363.67L281.27 364.69L281.37 365.65L281.47 366.57L281.57 367.44L281.67 368.27L281.77 369.07L281.87 369.84L281.97 370.57L282.07 371.27L282.17 371.95L282.27 372.60L282.37 373.22L282.47 373.83L282.57 374.41L282.67 374.97L282.77 375.52L282.87 376.05L282.97 376.56L283.07 377.05L283.57 379.32L284.07 381.31L284.57 383.06L285.07 384.63L285.57 386.03L286.07 387.29L286.57 388.43L287.07 389.45L287.57 390.36L288.07 391.18L288.57 391.91L289.07 392.55L289.57 393.13L290.07 393.63L290.57 394.08L291.07 394.47L291.57 394.81L292.07 395.11L292.57 395.36L293.07 395.58L293.57 395.78L294.07 395.94L294.57 396.09L295.07 396.21L295.57 396.32L296.07 396.42L296.57 396.50L297.07 396.57L297.57 396.63L298.07 396.69L298.57 396.74L299.07 396.78L299.57 396.82L300.07 396.86L300.57 396.89L301.07 396.93L301.57 396.95L302.07 396.98L303.57 397.05L305.07 397.10L306.57 397.15L308.07 397.19L309.57 397.23L311.07 397.26L312.57 397.29L314.07 397.31L315.57 397.33L317.07 397.35L318.57 397.37L320.07 397.38L321.57 397.39L323.07 397.41L324.57 397.42L326.07 397.43L327.57 397.44L329.07 397.45L330.57 397.45L332.07 397.46L333.57 397.47L335.07 397.47L336.57 397.48L338.07 397.48L339.57 397.49L341.07 397.49L342.57 397.50L344.07 397.50L345.57 397.50L347.07 397.51L348.57 397.51L350.07 397.51L351.57 397.52L353.07 397.52L354.57 397.52L356.07 397.52L357.57 397.53L359.07 397.53L360.57 397.53L362.07 397.53L363.57 397.53L365.07 397.54L366.57 397.54L368.07 397.54L369.57 397.54L371.07 397.54L372.57 397.54L374.07 397.54L375.57 397.55L377.07 397.55L378.57 397.55L380.07 397.55L381.57 397.55L383.07 397.55L384.57 397.55L386.07 397.55L387.57 397.55L389.07 397.55L390.57 397.56L392.07 397.56L393.57 397.56L395.07 397.56L396.57 397.56L398.07 397.56L399.57 397.56L401.07 397.56L402.57 397.56L404.07 397.56L405.57 397.56L407.07 397.56L408.57 397.56L410.07 397.56L411.57 397.56L413.07 397.56L414.57 397.56L416.07 397.57L417.57 397.57L419.07 397.57L420.57 397.57L422.07 397.57L423.57 397.57L425.07 397.57L426.57 397.57L428.07 397.57L429.57 397.57L431.07 397.58L432.57 397.58L434.07 397.59L435.57 397.60L437.07 397.61L438.57 397.62L440.07 397.63L441.57 397.65L443.07 397.66L444.57 397.68L446.07 397.70L447.57 397.72L449.07 397.74L450.57 397.76L452.07 397.78L453.57 397.80L455.07 397.82L456.57 397.84L458.07 397.86L459.57 397.89L461.07 397.91L462.57 397.93L464.07 397.96L465.57 397.98L467.07 398.00L468.57 398.02L470.07 398.04L471.57 398.06L473.07 398.09L474.57 398.11L476.07 398.13L477.57 398.14L479.07 398.16L480.57 398.18L482.07 398.19L483.57 398.21L485.07 398.22L486.57 398.23L488.07 398.25L489.57 398.25L491.07 398.26L492.57 398.27L494.07 398.27L495.57 398.28L497.07 398.28L498.57 398.28L500.07 398.28L501.57 398.28L503.07 398.26L504.57 398.06L506.07 397.15L507.57 396.10L509.07 396.34L510.57 397.09L512.07 397.77L513.57 398.12L515.07 398.25L516.57 398.27L518.07 398.28L519.57 398.28L521.07 398.28L522.57 398.28L524.07 398.28L525.57 398.28L527.07 398.28L528.57 398.28L530.07 398.28L531.57 398.28L533.07 398.28L534.57 398.28L536.07 398.28L537.57 398.28L539.07 398.28L540.57 398.28L540.87 398.28L541.47 398.28" stroke="#ED7D31"/>
<path d="M52.20 426.00L53.70 426.00L55.20 426.00L56.70 426.00L58.20 426.00L59.70 426.00L61.20 426.00L62.70 426.00L64.20 426.00L65.70 426.00L67.20 426.00L68.70 426.00L70.20 426.00L71.70 426.00L73.20 426.00L74.70 426.00L76.20 426.00L77.70 426.00L79.20 426.00L80.70 426.00L82.20 426.00L83.70 426.00L85.20 426.00L86.70 426.00L88.20 425.99L89.70 425.93L91.20 425.61L92.70 424.73L94.20 423.65L95.70 423.42L97.20 423.66L98.70 424.11L100.20 424.63L101.70 425.11L103.20 425.48L104.70 425.73L106.20 425.87L107.70 425.94L109.20 425.98L110.70 425.99L112.20 425.99L113.70 425.99L115.20 426.00L116.70 426.00L118.20 426.00L119.70 426.00L121.20 425.99L122.70 425.99L124.20 425.99L125.70 425.99L127.20 425.99L128.70 425.99L130.20 425.99L131.70 425.99L133.20 425.99L134.70 425.99L136.20 425.99L137.70 425.99L139.20 425.99L140.70 425.99L142.20 425.99L143.70 425.99L145.20 425.99L146.70 425.99L148.20 425.99L149.70 425.99L151.20 425.99L152.70 425.99L154.20 425.97L155.70 425.94L157.20 425.91L158.70 425.88L160.20 425.85L161.70 425.82L163.20 425.79L164.70 425.75L166.20 425.72L167.70 425.69L169.20 425.66L170.70 425.63L172.20 425.60L173.70 425.57L175.20 425.54L176.70 425.51L178.20 425.48L179.70 425.45L181.20 425.42L182.70 425.39L184.20 425.36L185.70 425.33L187.20 425.30L188.70 425.26L190.20 425.23L191.70 425.20L193.20 425.17L194.70 425.14L196.20 425.11L197.70 425.08L199.20 425.05L200.70 425.01L202.20 424.98L203.70 424.95L205.20 424.92L206.70 424.89L208.20 424.85L209.70 424.82L211.20 424.79L212.70 424.75L214.20 424.72L215.70 424.68L217.20 424.65L218.70 424.61L220.20 424.57L221.70 424.54L223.20 424.50L224.70 424.46L226.20 424.41L227.70 424.37L229.20 424.32L229.70 424.31L230.20 424.29L230.70 424.27L231.20 424.25L231.70 424.23L232.20 424.22L232.70 424.20L233.20 424.17L233.70 424.15L234.20 424.13L234.70 424.11L235.20 424.08L235.70 424.06L236.20 424.03L236.70 424.00L237.20 423.97L237.70 423.94L238.20 423.90L238.70 423.86L239.20 423.82L239.70 423.78L240.20 423.73L240.70 423.68L241.20 423.62L241.70 423.56L242.20 423.48L242.70 423.40L243.20 423.31L243.70 423.21L244.20 423.09L244.70 422.95L245.20 422.78L245.70 422.59L246.20 422.35L246.70 422.07L247.20 421.71L247.30 421.63L247.40 421.54L247.50 421.45L247.60 421.35L247.70 421.25L247.80 421.13L247.90 421.01L248.00 420.87L248.10 420.72L248.20 420.56L248.30 420.37L248.40 420.16L248.50 419.92L248.60 419.64L248.70 419.32L248.80 418.94L248.90 418.49L249.00 417.97L249.10 417.34L249.20 416.60L249.30 415.72L249.40 414.68L249.50 413.44L249.60 411.98L249.70 410.25L249.80 408.23L249.90 405.86L250.00 403.11L250.10 399.93L250.20 396.27L250.30 392.08L250.40 387.33L250.50 381.96L250.60 375.95L250.70 369.25L250.80 361.86L250.90 353.75L251.00 344.93L251.10 335.41L251.20 325.23L251.30 314.43L251.40 303.07L251.50 291.25L251.60 279.06L251.70 266.63L251.80 254.09L251.90 241.60L252.00 229.32L252.10 217.44L252.20 206.14L252.30 195.60L252.40 186.01L252.50 177.54L252.60 170.36L252.70 164.61L252.80 160.41L252.90 157.86L253.00 157.00L253.10 158.59L253.20 163.16L253.30 170.40L253.40 179.84L253.50 190.91L253.60 203.06L253.70 215.76L253.80 228.60L253.90 241.21L254.00 253.36L254.10 264.89L254.20 275.69L254.30 285.73L254.40 294.99L254.50 303.51L254.60 311.31L254.70 318.44L254.80 324.95L254.90 330.90L255.00 336.32L255.10 341.29L255.20 345.82L255.30 349.98L255.40 353.79L255.50 357.29L255.60 360.51L255.70 363.48L255.80 366.22L255.90 368.76L256.00 371.11L256.10 373.30L256.20 375.34L256.30 377.23L256.40 379.01L256.50 380.67L256.60 382.23L256.70 383.69L256.80 385.07L256.90 386.37L257.00 387.60L257.10 388.76L257.20 389.86L257.30 390.90L257.40 391.90L257.50 392.85L257.60 393.75L257.70 394.61L257.80 395.44L257.90 396.23L258.00 396.99L258.10 397.72L258.20 398.42L258.30 399.09L258.40 399.74L258.50 400.37L258.60 400.97L258.70 401.56L258.80 402.12L258.90 402.67L259.00 403.20L259.50 405.63L260.00 407.75L260.50 409.62L261.00 411.29L261.50 412.79L262.00 414.13L262.50 415.34L263.00 416.42L263.50 417.39L264.00 418.26L264.50 419.04L265.00 419.73L265.50 420.34L266.00 420.89L266.50 421.36L267.00 421.78L267.50 422.14L268.00 422.46L268.50 422.73L269.00 422.97L269.50 423.18L270.00 423.36L270.50 423.51L271.00 423.64L271.50 423.76L272.00 423.86L272.50 423.95L273.00 424.03L273.50 424.09L274.00 424.15L274.50 424.21L275.00 424.25L275.50 424.30L276.00 424.34L276.50 424.37L277.00 424.40L277.50 424.43L278.00 424.46L279.50 424.53L281.00 424.59L282.50 424.64L284.00 424.69L285.50 424.72L287.00 424.76L288.50 424.78L290.00 424.81L291.50 424.83L293.00 424.85L294.50 424.87L296.00 424.89L297.50 424.90L299.00 424.91L300.50 424.92L302.00 424.93L303.50 424.94L305.00 424.95L306.50 424.96L308.00 424.97L309.50 424.98L311.00 424.98L312.50 424.99L314.00 424.99L315.50 425.00L317.00 425.00L318.50 425.01L320.00 425.01L321.50 425.02L323.00 425.02L324.50 425.02L326.00 425.03L327.50 425.03L329.00 425.03L330.50 425.03L332.00 425.04L333.50 425.04L335.00 425.04L336.50 425.04L338.00 425.04L339.50 425.05L341.00 425.05L342.50 425.05L344.00 425.05L345.50 425.05L347.00 425.06L348.50 425.06L350.00 425.06L351.50 425.06L353.00 425.06L354.50 425.06L356.00 425.06L357.50 425.06L359.00 425.06L360.50 425.07L362.00 425.07L363.50 425.07L365.00 425.07L366.50 425.07L368.00 425.07L369.50 425.07L371.00 425.07L372.50 425.07L374.00 425.07L375.50 425.07L377.00 425.07L378.50 425.07L380.00 425.08L381.50 425.08L383.00 425.08L384.50 425.08L386.00 425.08L387.50 425.08L389.00 425.08L390.50 425.08L392.00 425.08L393.50 425.08L395.00 425.08L396.50 425.08L398.00 425.08L399.50 425.08L401.00 425.08L402.50 425.08L404.00 425.08L405.50 425.09L407.00 425.09L408.50 425.10L410.00 425.10L411.50 425.11L413.00 425.12L414.50 425.14L416.00 425.15L417.50 425.16L419.00 425.18L420.50 425.20L422.00 425.21L423.50 425.23L425.00 425.25L426.50 425.27L428.00 425.29L429.50 425.31L431.00 425.33L432.50 425.36L434.00 425.38L435.50 425.40L437.00 425.42L438.50 425.45L440.00 425.47L441.50 425.49L443.00 425.51L444.50 425.54L446.00 425.56L447.50 425.58L449.00 425.60L450.50 425.62L452.00 425.64L453.50 425.66L455.00 425.68L456.50 425.69L458.00 425.71L459.50 425.72L461.00 425.74L462.50 425.75L464.00 425.76L465.50 425.77L467.00 425.78L468.50 425.78L470.00 425.79L471.50 425.79L473.00 425.79L474.50 425.79L476.00 425.79L477.50 425.79L479.00 425.76L480.50 425.45L482.00 424.37L483.50 423.59L485.00 424.00L486.50 424.77L488.00 425.39L489.50 425.68L491.00 425.77L492.50 425.79L494.00 425.79L495.50 425.79L497.00 425.79L498.50 425.79L500.00 425.79L501.50 425.79L503.00 425.79L504.50 425.79L506.00 425.79L507.50 425.79L509.00 425.79L510.50 425.79L512.00 425.79L513.50 425.79L515.00 425.79L516.50 425.79L517.60 425.79L518.20 425.79" stroke="#4472C4"/>
</g>
<g font-size="8.3">
<text x="44" y="13.3" text-anchor="end" dominant-baseline="central">750</text>
<text x="44" y="68.2" text-anchor="end" dominant-baseline="central">650</text>
<text x="44" y="123.0" text-anchor="end" dominant-baseline="central">550</text>
<text x="44" y="177.9" text-anchor="end" dominant-baseline="central">450</text>
<text x="44" y="232.7" text-anchor="end" dominant-baseline="central">350</text>
<text x="44" y="287.6" text-anchor="end" dominant-baseline="central">250</text>
<text x="44" y="342.5" text-anchor="end" dominant-baseline="central">150</text>
<text x="44" y="397.3" text-anchor="end" dominant-baseline="central">50</text>
<text x="44" y="452.2" text-anchor="end" dominant-baseline="central">-50</text>
<text x="52.2" y="440" text-anchor="middle">0</text>
<text x="168.6" y="440" text-anchor="middle">0,5</text>
<text x="284.9" y="440" text-anchor="middle">1</text>
<text x="401.2" y="440" text-anchor="middle">1,5</text>
<text x="517.6" y="440" text-anchor="middle">2</text>
<text x="634.0" y="440" text-anchor="middle">2,5</text>
</g>
<g font-size="8.3">
<line x1="548.3" y1="58.2" x2="567.6" y2="58.2" stroke="#264478" stroke-width="2"/>
<text x="569.6" y="58.1" dominant-baseline="central">#5000</text>
<line x1="616.4" y1="58.2" x2="636.1" y2="58.2" stroke="#70AD47" stroke-width="2"/>
<text x="637.7" y="58.1" dominant-baseline="central">#4000</text>
<line x1="546.6" y1="98.3" x2="564.4" y2="98.3" stroke="#5B9BD5" stroke-width="2"/>
<text x="569.3" y="98.9" dominant-baseline="central">#3000</text>
<line x1="616.2" y1="99.4" x2="635.8" y2="99.4" stroke="#FFC000" stroke-width="2"/>
<text x="637.7" y="99.2" dominant-baseline="central">#2000</text>
<line x1="548.3" y1="140.4" x2="567.7" y2="140.4" stroke="#A5A5A5" stroke-width="2"/>
<text x="569.5" y="140.3" dominant-baseline="central">#1000</text>
<line x1="616.3" y1="140.4" x2="636.3" y2="140.4" stroke="#ED7D31" stroke-width="2"/>
<text x="638.0" y="140.3" dominant-baseline="central">#500</text>
<line x1="548.3" y1="181.0" x2="567.7" y2="181.0" stroke="#4472C4" stroke-width="2"/>
<text x="569.5" y="180.9" dominant-baseline="central">#01</text>
</g>
<text x="355" y="465" text-anchor="middle" font-size="9.3">Time [min]</text>
<text transform="translate(25.9 232.8) rotate(-90)" text-anchor="middle" font-size="9">Absorption [mAU]</text>
</svg>
</body></html>
